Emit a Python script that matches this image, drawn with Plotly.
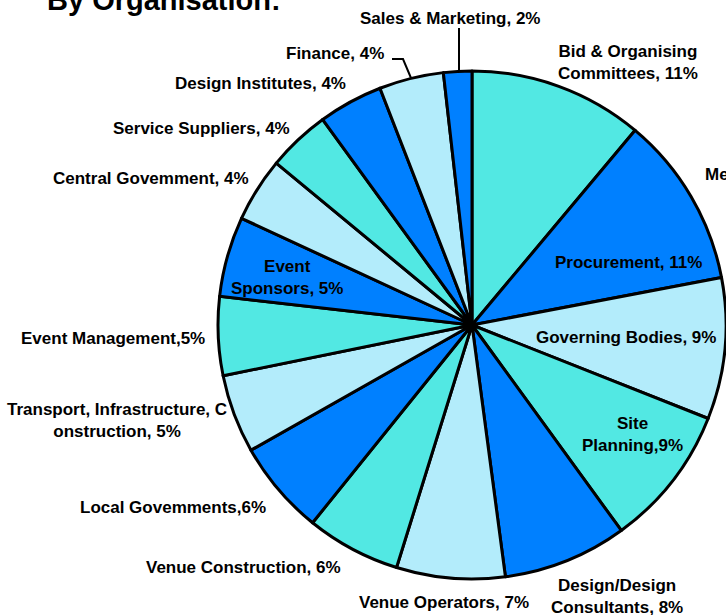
import plotly.graph_objects as go

W, H = 726, 615

# ---- data (clockwise from 12 o'clock) ----
categories = [
    "Bid & Organising Committees", "Procurement", "Governing Bodies", "Site Planning",
    "Design/Design Consultants", "Venue Operators", "Venue Construction", "Local Govemments",
    "Transport, Infrastructure, Construction", "Event Management", "Event Sponsors",
    "Central Govemment", "Service Suppliers", "Design Institutes", "Finance", "Sales & Marketing",
]
values = [11.1, 10.9, 9.0, 9.0, 7.9, 6.9, 6.0, 6.0, 5.0, 5.0, 5.1, 4.1, 4.0, 4.1, 4.1, 1.8]
label_texts = [
    "Bid & Organising<br>Committees, 11%", "Procurement, 11%", "Governing Bodies, 9%",
    "Site<br>Planning,9%", "Design/Design<br>Consultants, 8%", "Venue Operators, 7%",
    "Venue Construction, 6%", "Local Govemments,6%",
    "Transport, Infrastructure, C<br>onstruction, 5%", "Event Management,5%",
    "Event<br>Sponsors, 5%", "Central Govemment, 4%", "Service Suppliers, 4%",
    "Design Institutes, 4%", "Finance, 4%", "Sales & Marketing, 2%",
]
TURQ, BLUE, LIGHT = "#52E8E3", "#0080FF", "#B3ECFB"
slice_colors = [TURQ, BLUE, LIGHT, TURQ, BLUE, LIGHT, TURQ, BLUE, LIGHT, TURQ, BLUE,
                LIGHT, TURQ, BLUE, LIGHT, BLUE]

# label centres (pixels) - layout only
label_pos = [
    (628, 62), (628, 262), (626, 337), (632, 434), (617, 596), (444, 602),
    (243, 567), (173, 507), (117, 420), (113, 338), (287, 277), (151, 179),
    (202, 128), (260, 83), (335, 53), (450, 18),
]


def px(x, y):
    return x / W, 1 - y / H


FONT = dict(family="Liberation Sans, Arial, sans-serif", size=17, color="black")

fig = go.Figure(go.Pie(
    labels=categories,
    values=values,
    sort=False,
    direction="clockwise",
    rotation=0,
    textinfo="none",
    hoverinfo="label+percent",
    marker=dict(colors=slice_colors, line=dict(color="black", width=3)),
    domain=dict(x=[218 / W, 1.0], y=[1 - 579 / H, 1 - 71 / H]),
    showlegend=False,
))

annotations = []
for txt, (x, y) in zip(label_texts, label_pos):
    ax_, ay_ = px(x, y)
    annotations.append(dict(
        x=ax_, y=ay_, xref="paper", yref="paper", text="<b>" + txt + "</b>",
        showarrow=False, xanchor="center", yanchor="middle", align="center", font=FONT,
    ))

# truncated outside label on the right edge
mx, my = px(703, 174)
annotations.append(dict(x=mx, y=my, xref="paper", yref="paper", text="<b>Me</b>",
                        showarrow=False, xanchor="left", yanchor="middle", font=FONT))

# cut-off title
tx, ty = px(45, 0)
annotations.append(dict(x=tx, y=ty, xref="paper", yref="paper", text="<b>By Organisation:</b>",
                        showarrow=False, xanchor="left", yanchor="middle",
                        font=dict(family="Liberation Sans, Arial, sans-serif", size=29, color="black")))


def path_from(points):
    parts = []
    for i, (x, y) in enumerate(points):
        X, Y = px(x, y)
        parts.append(("M" if i == 0 else "L") + f" {X} {Y}")
    return " ".join(parts)


shapes = [
    dict(type="path", xref="paper", yref="paper", path=path_from([(459, 28), (459, 70)]),
         line=dict(color="black", width=2)),
    dict(type="path", xref="paper", yref="paper",
         path=path_from([(392, 59), (403, 59), (411, 78)]),
         line=dict(color="black", width=2)),
]

fig.update_layout(
    width=W, height=H,
    margin=dict(l=0, r=0, t=0, b=0),
    paper_bgcolor="white", plot_bgcolor="white",
    annotations=annotations, shapes=shapes,
)

fig.write_html(
    "out.html",
    config={"displayModeBar": False},
    post_script="document.body.style.margin='0';document.body.style.overflow='hidden';",
)
